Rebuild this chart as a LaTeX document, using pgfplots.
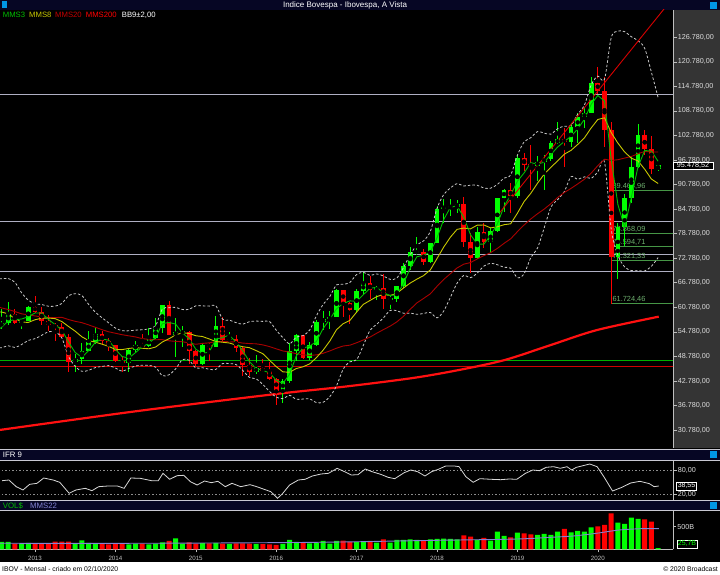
\documentclass[border=0pt]{standalone}
\usepackage{fontspec}
\setmainfont{Liberation Sans}
\usepackage{pgfplots}
\usepackage{pgfplotstable}
\pgfplotsset{compat=1.18}

\definecolor{navy}{RGB}{6,6,36}
\definecolor{pgray}{RGB}{52,52,52}
\definecolor{axl}{RGB}{190,190,190}
\definecolor{tktx}{RGB}{220,220,220}
\definecolor{cup}{RGB}{0,255,0}
\definecolor{cdn}{RGB}{255,0,0}
\definecolor{m3}{RGB}{0,190,0}
\definecolor{m8}{RGB}{200,200,0}
\definecolor{m20}{RGB}{170,0,0}
\definecolor{m20tx}{RGB}{195,0,0}
\definecolor{m200}{RGB}{255,16,16}
\definecolor{trend}{RGB}{215,0,0}
\definecolor{bb}{RGB}{200,200,200}
\definecolor{hl}{RGB}{175,175,195}
\definecolor{fib}{RGB}{70,150,70}
\definecolor{fibtx}{RGB}{110,175,110}
\definecolor{gline}{RGB}{0,176,0}
\definecolor{rline}{RGB}{208,0,0}
\definecolor{ifr}{RGB}{215,215,215}
\definecolor{dotl}{RGB}{140,140,140}
\definecolor{m22}{RGB}{130,130,210}
\definecolor{sep}{RGB}{200,200,210}
\definecolor{yeartx}{RGB}{190,190,190}
\definecolor{icon}{RGB}{0,150,230}

% monthly candles, i = months since Jan 2013, values in thousands of points
\pgfplotstableread{
i o h l c
-6 54.35 57.06 53.09 56.10
-5 56.10 60.29 55.60 57.06
-4 57.06 62.00 56.40 59.18
-2 57.07 57.90 55.40 57.48
-1 57.48 61.00 57.40 60.95
6 47.46 49.30 45.00 48.23
7 48.23 52.00 47.00 50.01
8 50.01 55.00 50.00 52.34
9 52.34 56.00 51.80 54.26
14 47.09 50.50 44.90 50.42
15 50.42 52.50 49.80 51.63
17 51.24 55.70 51.20 53.17
18 53.17 58.20 53.00 55.83
19 55.83 61.30 54.50 61.29
21 54.12 58.10 48.70 54.63
22 54.63 56.30 51.00 54.72
25 46.91 52.00 46.70 51.58
27 51.15 58.60 51.10 56.23
29 52.76 54.80 52.50 53.08
33 45.06 49.10 44.40 45.87
37 40.41 43.20 37.50 42.79
38 42.79 52.00 42.40 50.06
39 50.06 54.30 47.70 53.91
41 48.47 52.40 48.00 51.53
42 51.53 57.60 51.30 57.31
43 57.31 59.90 55.30 57.90
44 57.90 60.00 55.40 58.37
45 58.37 65.30 58.30 64.92
48 60.23 65.30 59.50 64.67
49 64.67 69.50 63.80 66.66
51 64.98 66.00 62.50 65.40
53 62.71 63.50 60.30 62.90
54 62.90 66.00 62.00 65.92
55 65.92 71.50 65.60 70.84
56 70.84 75.60 70.00 74.29
57 74.29 78.00 73.50 74.31
59 71.97 76.50 71.70 76.40
60 76.40 85.50 76.40 84.91
61 84.91 87.30 81.30 85.35
62 85.35 87.30 83.10 85.37
63 85.37 86.90 83.90 86.12
66 72.76 80.30 72.60 79.22
68 76.68 80.10 74.00 79.34
69 79.34 87.40 79.30 87.42
70 87.42 89.80 84.10 89.50
72 87.89 98.00 87.50 97.39
75 95.41 97.70 91.70 96.35
76 96.35 98.00 89.40 97.03
77 97.03 101.50 96.50 100.97
78 100.97 106.00 100.60 101.81
80 101.14 105.80 100.00 104.75
81 104.75 108.20 101.00 107.22
82 107.22 109.60 104.50 108.23
83 108.23 117.00 108.20 115.65
87 73.02 81.30 67.80 80.51
88 80.51 88.40 75.70 87.40
89 87.40 97.70 86.30 95.06
90 95.06 105.70 94.90 102.91
93 94.60 95.60 94.10 95.48
}\candup

\pgfplotstableread{
i o h l c
-3 59.18 60.37 56.80 57.07
0 60.95 63.47 59.50 59.76
1 59.76 60.80 56.50 57.42
2 57.42 58.80 55.00 56.35
3 56.35 56.90 52.60 55.91
4 55.91 56.90 53.20 53.51
5 53.51 54.20 45.00 47.46
10 54.26 54.90 51.60 52.48
11 52.48 53.20 50.20 51.51
12 51.51 51.60 47.30 47.64
13 47.64 48.90 44.90 47.09
16 51.63 54.20 51.00 51.24
20 61.29 62.30 54.00 54.12
23 54.72 54.90 47.00 50.01
24 50.01 50.30 46.40 46.91
26 51.58 52.00 47.60 51.15
28 56.23 58.30 52.50 52.76
30 53.08 54.00 49.80 50.87
31 50.87 51.40 44.00 46.63
32 46.63 48.40 44.10 45.06
34 45.87 48.20 45.00 45.12
35 45.12 47.30 43.00 43.35
36 43.35 43.50 37.00 40.41
40 53.91 54.00 48.10 48.47
46 64.92 65.00 58.30 61.91
47 61.91 62.10 56.80 60.23
50 66.66 68.50 62.90 64.98
52 65.40 69.00 60.30 62.71
58 74.31 75.00 71.20 71.97
64 86.12 87.70 75.60 76.75
65 76.75 79.00 69.10 72.76
67 79.22 81.50 75.30 76.68
71 89.50 91.20 83.90 87.89
73 97.39 98.60 94.00 95.58
74 95.58 100.40 89.40 95.41
79 101.81 104.50 95.00 101.14
84 115.65 119.60 112.80 113.76
85 113.76 117.00 99.90 104.17
86 104.17 106.00 61.69 73.02
91 102.91 104.10 98.10 99.37
92 99.37 102.70 93.40 94.60
}\canddn

% moving averages and Bollinger bands (9, 2)
\pgfplotstableread{
i m3 m8 m20 bu bl
-6 55.00 59.61 61.24 67.75 50.87
-5 55.84 59.65 60.63 67.75 50.91
-4 57.45 59.17 60.26 67.82 51.38
-3 57.77 58.07 59.74 66.89 50.97
-2 57.91 57.19 59.19 64.33 51.69
-1 58.50 57.09 58.93 62.53 52.69
0 59.40 57.74 58.68 61.64 53.12
1 59.38 58.13 58.43 61.47 53.95
2 57.84 58.16 58.31 61.05 54.81
3 56.56 58.02 58.28 61.07 54.75
4 55.26 57.31 58.34 61.71 53.31
5 52.29 56.11 57.80 63.61 48.81
6 49.73 54.95 57.36 64.11 46.35
7 48.57 53.58 57.03 63.66 45.14
8 50.19 52.65 56.49 61.50 45.38
9 52.20 52.26 55.91 59.61 46.05
10 53.03 51.78 55.31 58.24 46.32
11 52.75 51.23 54.80 56.97 46.53
12 50.54 50.49 54.45 55.71 45.95
13 48.75 50.45 54.09 55.07 45.15
14 48.38 50.72 53.81 55.04 45.84
15 49.71 50.92 53.54 55.20 46.44
16 51.10 50.78 53.14 55.30 46.62
17 52.01 50.65 52.94 55.53 46.57
18 53.41 51.07 52.86 56.28 46.16
19 56.76 52.29 52.88 60.32 44.08
20 57.08 53.10 52.60 60.69 44.29
21 56.68 54.04 52.46 60.77 45.77
22 54.49 54.58 52.37 60.24 48.00
23 53.12 54.38 52.08 60.29 47.85
24 50.55 53.84 51.75 61.15 45.95
25 49.50 53.64 51.96 61.14 46.02
26 49.88 53.05 52.10 61.08 45.64
27 52.99 52.42 52.41 61.18 45.62
28 53.38 52.25 52.43 57.88 47.04
29 54.02 52.06 52.37 57.66 47.02
30 52.24 51.57 52.29 57.04 46.80
31 50.19 51.15 52.05 56.66 45.38
32 47.52 50.92 51.92 57.27 43.67
33 45.85 50.21 51.86 57.42 43.30
34 45.35 49.45 51.60 57.34 41.94
35 44.78 47.84 51.18 57.31 40.23
36 42.96 46.30 50.64 55.20 38.84
37 42.18 45.01 50.12 53.35 38.47
38 44.42 44.91 49.83 51.87 39.27
39 48.92 45.82 49.46 53.50 38.30
40 50.81 46.25 49.18 53.87 38.37
41 51.30 46.96 49.03 55.23 38.40
42 52.44 48.48 49.16 58.71 37.50
43 55.58 50.30 49.55 61.49 37.57
44 57.86 52.54 50.12 63.43 38.95
45 60.40 55.31 50.79 66.26 41.58
46 61.73 56.79 51.33 66.40 45.68
47 62.35 57.58 51.53 66.87 47.47
48 62.27 59.61 52.12 68.79 47.95
49 63.85 61.50 52.80 69.31 51.47
50 65.44 62.46 53.51 68.58 55.18
51 65.68 63.39 54.45 68.94 56.62
52 64.36 63.94 55.33 68.44 58.20
53 63.67 63.68 56.18 67.62 60.02
54 63.84 64.18 57.22 67.91 59.95
55 66.55 65.51 58.59 70.50 59.34
56 70.35 66.71 60.29 73.61 59.37
57 73.15 67.67 61.86 76.04 59.08
58 73.52 68.54 62.96 77.03 59.27
59 74.23 69.92 64.08 79.32 59.52
60 77.76 72.69 65.91 84.96 58.20
61 82.22 75.50 67.60 88.34 59.86
62 85.21 77.93 69.00 89.96 63.24
63 85.61 79.84 70.41 91.00 66.68
64 82.75 80.15 71.33 90.44 68.56
65 78.54 79.95 71.72 90.63 68.03
66 76.24 80.86 72.59 90.61 69.13
67 76.22 80.90 73.41 89.94 70.86
68 78.41 80.20 74.14 89.90 71.54
69 81.15 80.46 75.18 90.80 71.20
70 85.42 80.97 76.41 92.36 70.56
71 88.27 81.20 77.53 93.14 70.34
72 91.59 83.78 79.27 97.97 68.01
73 93.62 86.63 80.90 101.20 68.97
74 96.13 88.65 82.38 102.24 72.96
75 95.78 91.11 83.65 103.73 75.29
76 96.26 93.32 84.79 103.35 80.19
77 98.12 95.02 86.12 103.11 85.23
78 99.94 96.55 87.61 104.45 87.09
79 101.31 98.21 88.85 105.06 89.06
80 102.57 99.13 89.84 105.18 92.70
81 104.37 100.59 90.94 107.99 92.07
82 106.73 102.19 92.08 110.19 92.67
83 110.37 104.60 93.55 115.10 92.30
84 112.55 106.69 95.41 117.30 93.90
85 111.19 107.09 96.98 116.50 96.30
86 96.98 103.49 96.67 126.70 79.90
87 85.90 100.91 96.86 128.30 73.50
88 80.31 98.75 97.26 128.15 70.67
89 87.66 97.23 97.64 126.92 69.76
90 95.12 96.56 98.31 125.96 69.76
91 99.11 94.53 98.89 124.07 69.67
92 98.96 92.13 98.75 118.25 70.81
93 96.48 91.04 98.74 112.06 72.94
}\mas

% IFR 9
\pgfplotstableread{
i v
-4.9 53.3
-3.9 55
-2.8 38.3
-1.8 30
-0.8 44.2
0.3 46.7
1.3 60
2.7 55
3.7 49.2
5.1 21.7
6.1 30
7.5 34.2
8.5 28.3
9.5 38.3
10.9 40
12.3 40
13.3 34.2
14.3 60
15.7 59.2
17.4 53.3
18.4 53.3
19.1 71.7
20.1 56.7
21.2 65.8
22.2 66.7
23.2 50.8
24.2 42.5
25.3 52.5
26.3 48.3
27.3 51.7
28.4 38.3
29.4 46.7
30.7 38.3
32.1 43.3
33.1 38.3
34.2 31.7
35.2 25.8
36.2 9.2
36.9 20
38.0 42.5
39.3 55
40.3 56.7
41.4 65
42.7 70
43.8 71.7
45.1 84.2
46.2 75.8
47.2 67.5
48.2 68.3
49.3 82.5
50.3 75.8
51.6 69.2
52.7 61.7
53.7 58.3
55.1 73.3
56.1 80
57.1 75.8
58.2 65
59.2 75.8
60.2 81.7
61.3 90
62.6 90
63.3 88.3
64.3 63.3
65.4 49.2
66.4 58.3
68.1 56.7
69.5 55.8
70.8 57.5
71.9 56.7
73.2 71.7
74.3 80
75.3 78.3
76.3 86.7
77.4 88.3
78.4 84.2
79.4 88.3
80.1 80
80.8 86.7
81.8 90.8
82.8 95
83.9 88.3
84.9 63.3
86.2 27.5
87.6 36.7
88.9 47.5
90.3 51.7
91.7 45.8
92.4 38.3
93.1 40
}\ifrtab

% volume, billions
\pgfplotstableread{
i v
-6 150
-5 162
-4 162
-2 125
-1 140
6 125
7 199
8 140
9 125
14 110
15 125
17 110
18 125
19 155
21 243
22 125
25 135
27 140
29 120
33 120
37 118
38 206
39 162
41 133
42 147
43 184
44 125
45 184
48 162
49 177
51 147
53 147
54 206
55 206
56 221
57 206
59 221
60 228
61 236
62 228
63 221
66 206
68 192
69 390
70 295
72 369
75 317
76 339
77 317
78 390
80 376
81 405
82 390
83 486
87 590
88 560
89 700
90 671
93 25.7
}\volup

\pgfplotstableread{
i v
-3 125
0 125
1 125
2 125
3 170
4 170
5 170
10 125
11 110
12 125
13 125
16 125
20 184
23 155
24 125
26 130
28 125
30 130
31 130
32 125
34 115
35 110
36 96
40 147
46 192
47 162
50 184
52 221
58 199
64 310
65 280
67 250
71 265
73 354
74 332
79 450
84 509
85 538
86 796
91 663
92 612
}\voldn

\pgfplotsset{
  base/.style={
    scale only axis, anchor=south west, width=673pt,
    xmin=-5.224, xmax=95.224,
    axis x line*=bottom, x axis line style={draw=none},
    axis y line*=right,
    y axis line style={draw=axl, line width=0.8pt},
    tick align=outside, major tick length=3.5pt,
    tick style={draw=axl, line width=0.6pt},
    yticklabel style={font=\fontsize{7.2}{8}\selectfont, text=tktx, inner sep=1.2pt},
    xtick=\empty,
  },
  wick/.style={only marks, mark=none,
    error bars/.cd, y dir=both, y explicit, error mark=none,
    error bar style={line width=1pt, draw=#1}},
  body/.style={only marks, mark=none,
    error bars/.cd, y dir=both, y explicit, error mark=none,
    error bar style={line width=4.8pt, draw=#1}},
  fibl/.style={fib, line width=0.8pt},
}
\tikzset{
  fibn/.style={pos=0, anchor=south west, text=fibtx, inner sep=0.6pt,
    font=\fontsize{7.4}{8}\selectfont},
}

\begin{document}
\begin{tikzpicture}
\fill[black] (0pt,0pt) rectangle (720pt,575pt);
\fill[navy] (0pt,565pt) rectangle (720pt,575pt);
\fill[pgray] (673pt,126.5pt) rectangle (720pt,565pt);
\fill[white] (0pt,0pt) rectangle (720pt,12.5pt);

% ---------- price panel
\begin{axis}[base, at={(0pt,127pt)}, height=438pt, ymin=26.40, ymax=133.45,
  ytick={30.78,36.78,42.78,48.78,54.78,60.78,66.78,72.78,78.78,84.78,90.78,96.78,102.78,108.78,114.78,120.78,126.78},
  yticklabels={{30.780,00},{36.780,00},{42.780,00},{48.780,00},{54.780,00},{60.780,00},{66.780,00},{72.780,00},{78.780,00},{84.780,00},{90.780,00},{96.780,00},{102.780,00},{108.780,00},{114.780,00},{120.780,00},{126.780,00}},
]
\addplot[hl, line width=0.8pt] coordinates {(-6,112.85) (97,112.85)};
\addplot[hl, line width=0.8pt] coordinates {(-6,81.75) (97,81.75)};
\addplot[hl, line width=0.8pt] coordinates {(-6,73.78) (97,73.78)};
\addplot[hl, line width=0.8pt] coordinates {(-6,69.60) (97,69.60)};
\addplot[gline, line width=0.9pt] coordinates {(-6,47.91) (97,47.91)};
\addplot[rline, line width=0.9pt] coordinates {(-6,46.45) (97,46.45)};

\addplot[fibl] coordinates {(86.05,89.465) (97,89.465)} node[fibn] {89.464,96};
\addplot[fibl] coordinates {(86.05,78.868) (97,78.868)} node[fibn] {78.868,09};
\addplot[fibl] coordinates {(86.05,75.595) (97,75.595)} node[fibn] {75.594,71};
\addplot[fibl] coordinates {(86.05,72.321) (97,72.321)} node[fibn] {72.321,33};
\addplot[fibl] coordinates {(86.05,61.724) (97,61.724)} node[fibn] {61.724,46};

% MMS200
\addplot[m200, line width=2.2pt, smooth] coordinates {
(-5.3,30.80) (15.4,35.45) (36.0,39.60) (46.2,41.39) (56.4,43.51) (63.3,45.47)
(70.1,47.90) (77.0,51.58) (83.9,55.24) (93.1,58.50)};

% candles
\addplot[wick=cup] table[x=i, y expr=(\thisrow{h}+\thisrow{l})/2, y error expr=(\thisrow{h}-\thisrow{l})/2] {\candup};
\addplot[wick=cdn] table[x=i, y expr=(\thisrow{h}+\thisrow{l})/2, y error expr=(\thisrow{h}-\thisrow{l})/2] {\canddn};
\addplot[body=cup] table[x=i, y expr=(\thisrow{o}+\thisrow{c})/2, y error expr={max(abs(\thisrow{c}-\thisrow{o})/2,0.2)}] {\candup};
\addplot[body=cdn] table[x=i, y expr=(\thisrow{o}+\thisrow{c})/2, y error expr={max(abs(\thisrow{c}-\thisrow{o})/2,0.2)}] {\canddn};

% Bollinger
\addplot[bb, line width=0.8pt, dash pattern=on 2.5pt off 2pt, smooth] table[x=i, y=bu] {\mas};
\addplot[bb, line width=0.8pt, dash pattern=on 2.5pt off 2pt, smooth] table[x=i, y=bl] {\mas};
% averages
\addplot[m20, line width=0.9pt] table[x=i, y=m20] {\mas};
\addplot[m8, line width=0.9pt] table[x=i, y=m8] {\mas};
\addplot[m3, line width=0.9pt] table[x=i, y=m3] {\mas};
% trend line
\addplot[trend, line width=0.9pt] coordinates {(69.4,84.0) (96.3,138.6)};
\end{axis}

% ---------- IFR 9
\begin{axis}[base, at={(0pt,75pt)}, height=39pt, ymin=5, ymax=102.5,
  ytick={20,80}, yticklabels={{20,00},{80,00}}]
\addplot[dotl, line width=0.7pt, dash pattern=on 1.5pt off 2pt] coordinates {(-6,80) (97,80)};
\addplot[dotl, line width=0.7pt, dash pattern=on 1.5pt off 2pt] coordinates {(-6,20) (97,20)};
\addplot[ifr, line width=0.8pt] table[x=i, y=v] {\ifrtab};
\end{axis}

% ---------- volume
\begin{axis}[base, at={(0pt,25.7pt)}, height=38.3pt, ymin=0, ymax=847,
  ytick={500}, yticklabels={500B},
  x axis line style={draw=axl, line width=0.6pt},
  xtick={0,12,24,36,48,60,72,84},
  xticklabels={2013,2014,2015,2016,2017,2018,2019,2020},
  major tick length=3pt,
  xticklabel style={font=\fontsize{6.2}{7}\selectfont, text=yeartx, inner sep=1pt, yshift=-2.2pt}]
\addplot[ybar, bar width=5pt, bar shift=0pt, fill=cup, draw=none] table[x=i, y=v] {\volup};
\addplot[ybar, bar width=5pt, bar shift=0pt, fill=cdn, draw=none] table[x=i, y=v] {\voldn};
\addplot[m22, line width=0.9pt, smooth] coordinates {
(-5.3,133) (15.3,133) (35.9,147) (46.1,162) (56.4,190) (63.3,206) (70.1,221)
(73.5,236) (77.0,265) (80.4,295) (83.8,354) (87.2,427) (90.7,457) (93.1,457)};
\end{axis}

% ---------- headers, legends, boxes
\node[anchor=center, text=white, font=\fontsize{8}{9}\selectfont, inner sep=0pt] at (345pt,570pt) {Indice Bovespa - Ibovespa, A Vista};
\fill[icon] (1.5pt,566.5pt) rectangle (6.5pt,573.5pt);
\fill[icon] (710pt,566pt) rectangle (717pt,573pt);

\begin{scope}[every node/.style={anchor=west, inner sep=0pt, font=\fontsize{7.7}{9}\selectfont}]
\node[text=m3] at (2.7pt,560pt) {MMS3};
\node[text=m8] at (29pt,560pt) {MMS8};
\node[text=m20tx] at (55pt,560pt) {MMS20};
\node[text=cdn] at (85.7pt,560pt) {MMS200};
\node[text=white] at (121.7pt,560pt) {BB9±2,00};
\end{scope}

\fill[navy] (0pt,114.5pt) rectangle (720pt,125.5pt);
\draw[sep, line width=0.7pt] (0pt,125.5pt) -- (720pt,125.5pt) (0pt,114.5pt) -- (720pt,114.5pt);
\fill[navy] (0pt,64.3pt) rectangle (720pt,74.3pt);
\draw[sep, line width=0.7pt] (0pt,74.3pt) -- (720pt,74.3pt) (0pt,64.3pt) -- (720pt,64.3pt);
\fill[icon] (710pt,116.5pt) rectangle (717pt,123.5pt);
\fill[icon] (710pt,66pt) rectangle (717pt,72.7pt);
\node[anchor=west, text=white, inner sep=0pt, font=\fontsize{7.8}{9}\selectfont] at (2.7pt,120pt) {IFR 9};
\node[anchor=west, text=m3, inner sep=0pt, font=\fontsize{7.8}{9}\selectfont] at (2.7pt,69.3pt) {VOL\$};
\node[anchor=west, text=m22, inner sep=0pt, font=\fontsize{7.8}{9}\selectfont] at (30pt,69.3pt) {MMS22};

\node[draw=white, fill=black, text=white, line width=0.6pt, inner sep=1pt, minimum width=40pt, font=\fontsize{7.2}{8}\selectfont] at (693pt,409.2pt) {95.478,52};
\node[draw=white, fill=black, text=white, line width=0.6pt, inner sep=1pt, font=\fontsize{7}{8}\selectfont] at (686.5pt,89pt) {38,55};
\node[draw=white, fill=black, text=cup, line width=0.6pt, inner sep=1pt, font=\fontsize{7}{8}\selectfont] at (687pt,31pt) {25,7B};

\node[anchor=west, text=black, inner sep=0pt, font=\fontsize{6.8}{8}\selectfont] at (2pt,6.2pt) {IBOV - Mensal - criado em 02/10/2020};
\node[anchor=east, text=black, inner sep=0pt, font=\fontsize{6.8}{8}\selectfont] at (718pt,6.2pt) {© 2020 Broadcast};

\pgfresetboundingbox
\useasboundingbox (0pt,0pt) rectangle (720pt,575pt);
\end{tikzpicture}
\end{document}
